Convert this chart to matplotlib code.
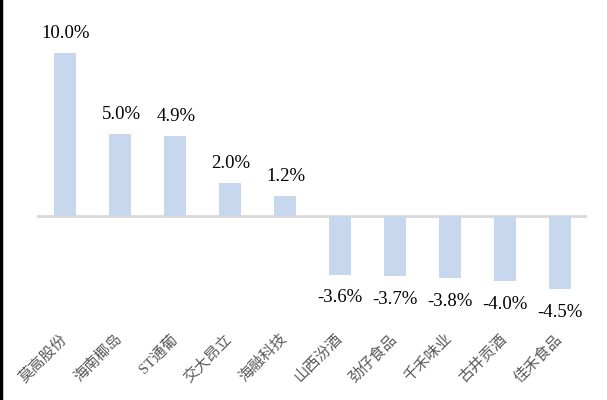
import matplotlib
matplotlib.use("Agg")
import matplotlib.pyplot as plt
from matplotlib.lines import Line2D

# data
names = ["莫高股份", "海南椰岛", "ST通葡", "交大昂立", "海融科技",
         "山西汾酒", "劲仔食品", "千禾味业", "古井贡酒", "佳禾食品"]
changes = [10.0, 5.0, 4.9, 2.0, 1.2, -3.6, -3.7, -3.8, -4.0, -4.5]

bar_color = "#C6D7EE"
serif_cjk = ["Liberation Serif", "Noto Sans CJK SC"]

fig = plt.figure(figsize=(6.07, 4.0), dpi=100)
ax = fig.add_axes([37 / 607, 0, 550 / 607, 1])

x = list(range(len(names)))
ax.bar(x, changes, width=0.4, color=bar_color, zorder=2)
ax.axhline(0, color="#D9D9D9", lw=2, zorder=1)

ax.set_xlim(-0.5, len(names) - 0.5)
ax.set_ylim(-11.29, 13.25)
ax.axis("off")

for i, v in enumerate(changes):
    if v >= 0:
        ax.text(i + 0.03, v + 0.7, f"{v:.1f}%", ha="center", va="bottom",
                fontsize=13.5, family=serif_cjk, color="black")
    else:
        ax.text(i, v - 0.9, f"{v:.1f}%", ha="center", va="top",
                fontsize=13.5, family=serif_cjk, color="black")

# rotated category labels below the bars
for i, n in enumerate(names):
    ax.text(i + 0.1, -7.1, n, ha="right", va="top", rotation=45,
            fontsize=11, family=serif_cjk, color="#595959")

# black border line on the left edge of the screenshot
fig.add_artist(Line2D([0.002, 0.002], [0, 1], color="black", lw=2.5,
                      transform=fig.transFigure))

fig.savefig("out.png", dpi=100)
